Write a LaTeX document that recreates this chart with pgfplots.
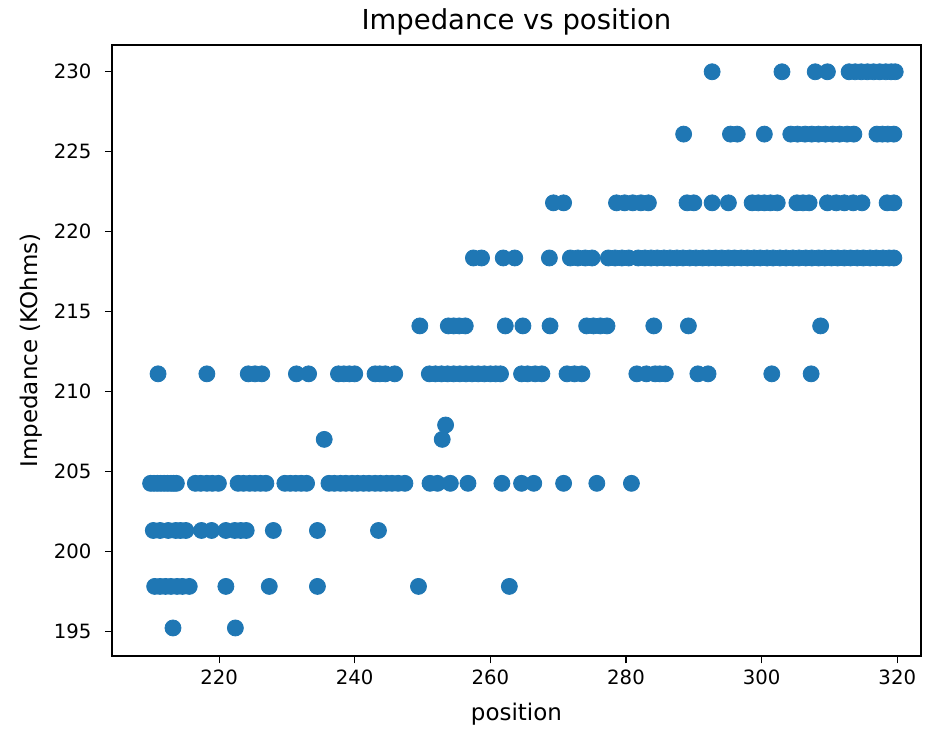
\documentclass[border=0pt]{standalone}
\usepackage{fontspec}
\setmainfont{DejaVu Sans}
\usepackage{pgfplots}
\pgfplotsset{compat=1.18}
\definecolor{mplblue}{HTML}{1F77B4}

\begin{document}
\begin{tikzpicture}
\begin{axis}[
    scale only axis,
    width=394.6pt, height=298pt,
    xmin=204.2, xmax=323.5,
    ymin=193.44, ymax=231.67,
    xtick={220,240,...,320},
    ytick={195,200,...,230},
    tick align=outside,
    xtick pos=bottom, ytick pos=left,
    major tick length=3.5pt,
    tick style={black, line width=0.5pt},
    axis line style={line width=0.6pt},
    tick label style={font=\fontsize{9.6}{11}\selectfont},
    xticklabel style={yshift=0.5pt},
    yticklabel style={xshift=-3pt},
    /pgf/number format/assume math mode=true,
    /pgf/number format/1000 sep={},
    title={Impedance vs position},
    title style={font=\fontsize{13.4}{15}\selectfont, inner sep=0pt, at={(axis description cs:0.5,1.006)}, anchor=base},
    xlabel={position},
    xlabel style={font=\fontsize{11.2}{13}\selectfont, inner sep=0pt, at={(axis description cs:0.5,-0.105)}, anchor=base},
    ylabel={Impedance (KOhms)},
    ylabel style={font=\fontsize{11.2}{13}\selectfont, inner sep=0pt, at={(axis description cs:-0.1,0.5)}, anchor=center},
    clip=false,
]
\addplot[only marks, mark=*, mark size=3.9pt, color=mplblue, mark options={draw=none, fill=mplblue}] coordinates {
% 195.2
(213.2,195.2) (222.4,195.2)
% 197.8
(210.5,197.8) (211.3,197.8) (212.1,197.8) (212.9,197.8) (213.8,197.8) (214.6,197.8) (215.6,197.8)
(221.0,197.8) (227.4,197.8) (234.5,197.8) (249.4,197.8) (262.8,197.8)
% 201.3
(210.3,201.3) (211.3,201.3) (212.5,201.3) (213.6,201.3) (214.3,201.3) (215.1,201.3) (217.4,201.3)
(218.9,201.3) (221.0,201.3) (222.3,201.3) (223.2,201.3) (224.0,201.3) (228.0,201.3) (234.5,201.3)
(243.5,201.3)
% 204.25
(209.9,204.25) (210.4,204.25) (210.9,204.25) (211.4,204.25) (211.9,204.25) (212.4,204.25)
(212.9,204.25) (213.3,204.25) (213.7,204.25) (216.5,204.25) (217.3,204.25) (218.2,204.25)
(219.0,204.25) (219.9,204.25) (222.8,204.25) (223.6,204.25) (224.5,204.25) (225.3,204.25)
(226.1,204.25) (226.9,204.25) (229.7,204.25) (230.5,204.25) (231.3,204.25) (232.1,204.25)
(232.9,204.25) (236.2,204.25) (237.0,204.25) (237.9,204.25) (238.7,204.25) (239.6,204.25)
(240.4,204.25) (241.3,204.25) (242.1,204.25) (243.0,204.25) (243.8,204.25) (244.7,204.25)
(245.5,204.25) (246.4,204.25) (247.4,204.25) (251.1,204.25) (252.2,204.25) (254.1,204.25)
(256.7,204.25) (261.7,204.25) (264.6,204.25) (266.4,204.25) (270.8,204.25) (275.7,204.25)
(280.8,204.25)
% 207
(235.5,207.0) (252.9,207.0) (253.4,207.9)
% 211.1
(211.0,211.1) (218.2,211.1) (224.3,211.1) (225.3,211.1) (226.3,211.1) (231.4,211.1) (233.2,211.1)
(237.6,211.1) (238.4,211.1) (239.2,211.1) (240.0,211.1) (243.0,211.1) (243.7,211.1) (244.5,211.1)
(245.9,211.1) (251.0,211.1) (251.9,211.1) (252.8,211.1) (253.7,211.1) (254.6,211.1) (255.5,211.1)
(256.4,211.1) (257.3,211.1) (258.2,211.1) (259.1,211.1) (260.0,211.1) (260.8,211.1) (261.5,211.1)
(264.6,211.1) (265.5,211.1) (266.6,211.1) (267.6,211.1) (271.3,211.1) (272.4,211.1) (273.5,211.1)
(281.6,211.1) (283.0,211.1) (284.3,211.1) (285.0,211.1) (285.8,211.1) (290.6,211.1) (292.1,211.1)
(301.5,211.1) (307.3,211.1)
% 214.1
(249.6,214.1) (253.8,214.1) (254.6,214.1) (255.4,214.1) (256.3,214.1) (262.2,214.1) (264.8,214.1)
(268.8,214.1) (274.2,214.1) (275.2,214.1) (276.2,214.1) (277.2,214.1) (284.1,214.1) (289.2,214.1)
(308.7,214.1)
% 218.35
(257.5,218.35) (258.7,218.35) (261.9,218.35) (263.6,218.35) (268.7,218.35) (271.8,218.35)
(272.9,218.35) (274.0,218.35) (275.0,218.35) (277.4,218.35) (278.4,218.35) (279.4,218.35)
(280.4,218.35) (281.8,218.35) (282.8,218.35) (283.7,218.35) (284.6,218.35) (285.6,218.35)
(286.5,218.35) (287.5,218.35) (288.4,218.35) (289.4,218.35) (290.3,218.35) (291.3,218.35)
(292.2,218.35) (293.2,218.35) (294.1,218.35) (295.1,218.35) (296.0,218.35) (297.0,218.35)
(297.9,218.35) (298.9,218.35) (299.8,218.35) (300.8,218.35) (301.7,218.35) (302.7,218.35)
(303.6,218.35) (304.6,218.35) (305.5,218.35) (306.5,218.35) (307.4,218.35) (308.4,218.35)
(309.3,218.35) (310.3,218.35) (311.2,218.35) (312.2,218.35) (313.1,218.35) (314.1,218.35)
(315.0,218.35) (316.0,218.35) (316.9,218.35) (317.9,218.35) (318.8,218.35) (319.5,218.35)
% 221.8
(269.3,221.8) (270.8,221.8) (278.6,221.8) (279.8,221.8) (281.0,221.8) (282.2,221.8) (283.3,221.8)
(289.0,221.8) (290.0,221.8) (292.7,221.8) (295.1,221.8) (298.6,221.8) (299.5,221.8) (300.4,221.8)
(301.3,221.8) (302.3,221.8) (305.2,221.8) (306.1,221.8) (307.0,221.8) (309.7,221.8) (311.0,221.8)
(312.2,221.8) (313.5,221.8) (314.8,221.8) (318.5,221.8) (319.5,221.8)
% 226.1
(288.5,226.1) (295.4,226.1) (296.4,226.1) (300.4,226.1) (304.3,226.1) (305.3,226.1) (306.4,226.1)
(307.4,226.1) (308.4,226.1) (309.4,226.1) (310.5,226.1) (311.5,226.1) (312.6,226.1) (313.6,226.1)
(317.0,226.1) (317.8,226.1) (318.6,226.1) (319.5,226.1)
% 230
(292.7,230.0) (303.0,230.0) (307.9,230.0) (309.7,230.0) (312.9,230.0) (313.8,230.0) (314.7,230.0)
(315.6,230.0) (316.5,230.0) (317.4,230.0) (318.3,230.0) (319.1,230.0) (319.7,230.0)
};
\end{axis}
\path[use as bounding box] ([shift={(-54.6pt,-35.6pt)}]current axis.south west)
    rectangle ([shift={(3.9pt,22pt)}]current axis.north east);
\end{tikzpicture}
\end{document}
